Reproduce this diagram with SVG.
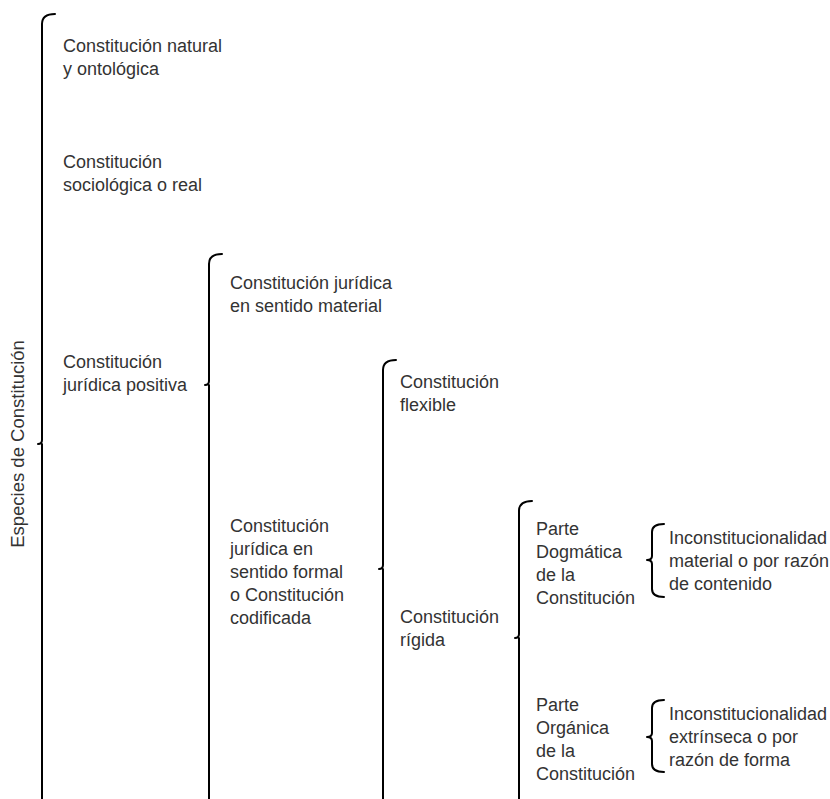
<svg xmlns="http://www.w3.org/2000/svg" width="830" height="799" viewBox="0 0 830 799">
<style>
text{font-family:"Liberation Sans",Arial,sans-serif;font-size:18px;fill:#333}
.br{fill:none;stroke:#000;stroke-width:2;stroke-linecap:round;stroke-linejoin:round}
</style>
<rect width="830" height="799" fill="#fff"/>
<g id="connectors">
<path class="br" d="M55,14 Q42,14 42,24 L42,440 Q42,444 38,444 M42,444 L42,810"/>
<path class="br" d="M222,254 Q209,254 209,264 L209,381 Q209,385 205,385 M209,385 L209,810"/>
<path class="br" d="M396,360 Q383,360 383,370 L383,565 Q383,569 379,569 M383,569 L383,810"/>
<path class="br" d="M532,501 Q519,501 519,511 L519,634 Q519,638 515,638 M519,638 L519,810"/>
<path class="br" d="M664,524 Q652,524 652,532 L652,556 Q652,560 647,560 Q652,560 652,564 L652,589 Q652,597 664,597"/>
<path class="br" d="M664,700 Q652,700 652,708 L652,733 Q652,737 647,737 Q652,737 652,741 L652,764 Q652,772 664,772"/>
</g>
<g id="root"><text transform="translate(24,444) rotate(-90)" text-anchor="middle" style="font-size:18.5px">Especies de Constitución</text></g>
<g id="n1"><text x="63" y="52">Constitución natural</text><text x="63" y="75">y ontológica</text></g>
<g id="n2"><text x="63" y="168">Constitución</text><text x="63" y="191">sociológica o real</text></g>
<g id="n3"><text x="63" y="368">Constitución</text><text x="63" y="391">jurídica positiva</text></g>
<g id="n4"><text x="230" y="289">Constitución jurídica</text><text x="230" y="312">en sentido material</text></g>
<g id="n5"><text x="230" y="532">Constitución</text><text x="230" y="555">jurídica en</text><text x="230" y="578">sentido formal</text><text x="230" y="601">o Constitución</text><text x="230" y="624">codificada</text></g>
<g id="n6"><text x="400" y="388">Constitución</text><text x="400" y="411">flexible</text></g>
<g id="n7"><text x="400" y="623">Constitución</text><text x="400" y="646">rígida</text></g>
<g id="n8"><text x="536" y="535">Parte</text><text x="536" y="558">Dogmática</text><text x="536" y="581">de la</text><text x="536" y="604">Constitución</text></g>
<g id="n9"><text x="669" y="544">Inconstitucionalidad</text><text x="669" y="567">material o por razón</text><text x="669" y="590">de contenido</text></g>
<g id="n10"><text x="536" y="711">Parte</text><text x="536" y="734">Orgánica</text><text x="536" y="757">de la</text><text x="536" y="780">Constitución</text></g>
<g id="n11"><text x="669" y="720">Inconstitucionalidad</text><text x="669" y="743">extrínseca o por</text><text x="669" y="766">razón de forma</text></g>
</svg>
